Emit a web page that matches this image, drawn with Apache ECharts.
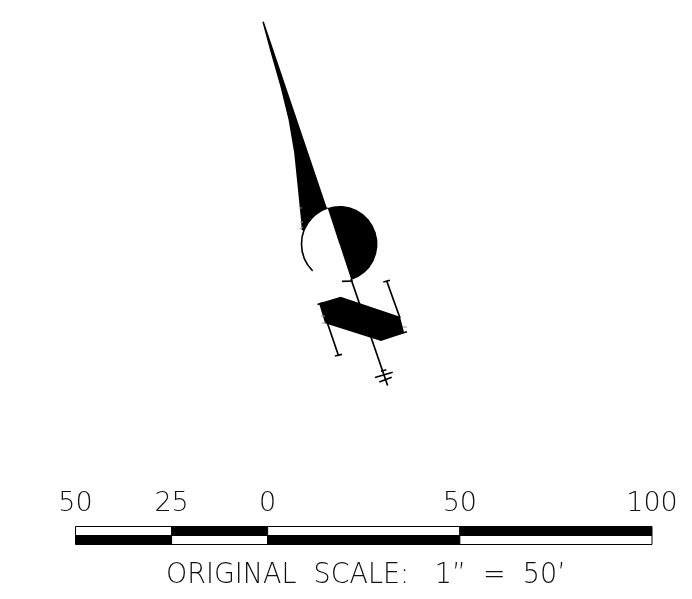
<!DOCTYPE html>
<html><head><meta charset="utf-8">
<style>html,body{margin:0;padding:0;background:#fff}#c{width:692px;height:599px}</style>
<script src="https://cdn.jsdelivr.net/npm/echarts@6/dist/echarts.min.js"></script>
</head><body><div id="c"></div>
<script>
// Drawing geometry in sheet units
const taperOutline=[[262.4,22],[270.8,53],[280.5,87],[288.6,120],[294.2,153],[297.7,187],[301,220],[301.7,230],[339.5,244],[327.2,209],[263.8,21.6]];
const padOutline=[[319,303.3],[340.7,296.7],[400,316.7],[404.3,333.3],[381,341],[325,323.3]];
const discCentre=[339.5,244];
const discRadius=38;
const blackHalfDeg=[-108.2,71.8];
const whiteHalfDeg=[71.8,251.8];
const rimDeg=[135,251.8];
const strokes=[
 [[351,279],[387.6,385.5]],
 [[342,281.3],[352.7,281]],
 [[375,377.5],[392.7,372.3]],
 [[379.3,382],[391.7,377.3]],
 [[381,371.3],[386.3,369.8]],
 [[386.7,281],[400,318]],
 [[383.3,282],[390,280.3]],
 [[400,333.5],[407,331.7]],
 [[321,304.3],[338.3,355]],
 [[335,356],[342,354.3]],
 [[317.5,304.5],[323,302.7]]
];
const faintStrokes=[[[299,208],[302,208]],[[300,222],[303,222]],[[299.5,229],[303,227]],[[321,316],[325,316]],[[322,323],[326,323]],[[403,327],[407,327]]];
// Scale bar in feet
const scaleTicks=[-50,-25,0,50,100];
const scaleUpper=[[-50,-25,0],[-25,0,1],[0,50,0],[50,100,1]];
const scaleLower=[[-50,-25,1],[-25,0,0],[0,50,1],[50,100,0]];
const caption='ORIGINAL  SCALE:   1”  =  50’';

const FONT='"DejaVu Sans ExtraLight","DejaVu Sans Light",Roboto';
const chart=echarts.init(document.getElementById('c'),null,{renderer:'canvas'});
function pts(api,a){return a.map(p=>api.coord(p));}
const rad=d=>d*Math.PI/180;
const drawing=[
 {k:'poly',p:taperOutline},
 {k:'sector',a:whiteHalfDeg,f:'#fff'},
 {k:'sector',a:blackHalfDeg,f:'#000'},
 {k:'arc',a:rimDeg},
 {k:'poly',p:padOutline},
 ...strokes.map(p=>({k:'line',p,w:1.7,c:'#000'})),
 ...faintStrokes.map(p=>({k:'line',p,w:1,c:'#999'}))
];
function renderDrawing(params,api){
 const d=drawing[api.value(0)];
 if(d.k==='poly')return{type:'polygon',shape:{points:pts(api,d.p)},style:{fill:'#000'}};
 if(d.k==='line')return{type:'polyline',shape:{points:pts(api,d.p)},style:{stroke:d.c,lineWidth:d.w,fill:null}};
 const c=api.coord(discCentre),r=api.size([discRadius,0])[0];
 if(d.k==='sector')return{type:'sector',shape:{cx:c[0],cy:c[1],r0:0,r,startAngle:rad(d.a[0]),endAngle:rad(d.a[1]),clockwise:true},style:{fill:d.f}};
 return{type:'arc',shape:{cx:c[0],cy:c[1],r,startAngle:rad(d.a[0]),endAngle:rad(d.a[1]),clockwise:true},style:{stroke:'#000',lineWidth:1.6,fill:null}};
}
function renderScale(params,api){
 const row=api.value(3);
 const a=api.coord([api.value(0),row+1]),b=api.coord([api.value(1),row]);
 const black=api.value(2)===1;
 return{type:'rect',shape:{x:a[0],y:a[1],width:b[0]-a[0],height:b[1]-a[1]},style:{fill:black?'#000':'#fff',stroke:'#000',lineWidth:1}};
}
chart.setOption({
 animation:false,backgroundColor:'#fff',
 graphic:[{type:'text',x:166,y:561,scaleX:0.93,style:{text:caption,fontFamily:FONT,fontSize:29,fill:'#111'},silent:true}],
 grid:[{left:0,top:0,width:692,height:599},{left:75.5,top:526.5,width:576.5,height:18}],
 xAxis:[
  {gridIndex:0,type:'value',min:0,max:692,show:false},
  {gridIndex:1,type:'value',min:-50,max:100,position:'top',axisLine:{show:false},axisTick:{show:false},splitLine:{show:false},
   axisLabel:{customValues:scaleTicks,formatter:v=>String(Math.abs(v)),margin:9,fontFamily:FONT,fontSize:27,color:'#111',showMinLabel:true,showMaxLabel:true,hideOverlap:false}}
 ],
 yAxis:[
  {gridIndex:0,type:'value',min:0,max:599,inverse:true,show:false},
  {gridIndex:1,type:'value',min:0,max:2,show:false}
 ],
 series:[
  {type:'custom',xAxisIndex:0,yAxisIndex:0,renderItem:renderDrawing,clip:false,silent:true,data:drawing.map((d,i)=>[i]),encode:{x:-1,y:-1}},
  {type:'custom',xAxisIndex:1,yAxisIndex:1,renderItem:renderScale,clip:false,silent:true,
   data:[...scaleUpper.map(s=>[s[0],s[1],s[2],1]),...scaleLower.map(s=>[s[0],s[1],s[2],0])],encode:{x:[0,1],y:3}}
 ]
});
</script></body></html>
